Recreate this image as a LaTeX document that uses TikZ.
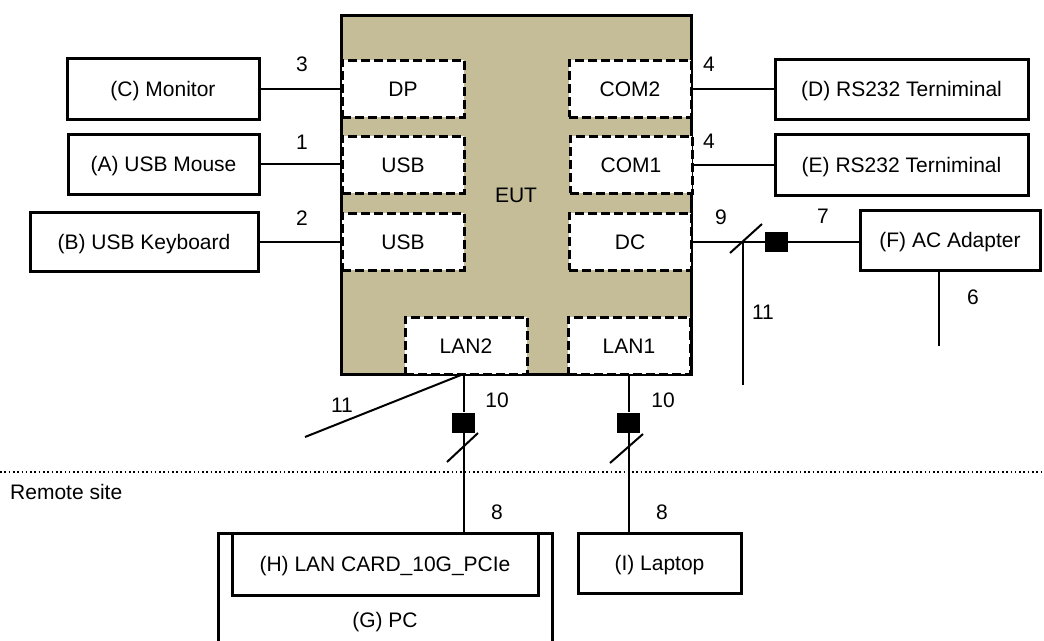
\documentclass[tikz,border=0pt]{standalone}
\usepackage{fontspec}
\setmainfont{Liberation Sans}
\definecolor{euttan}{HTML}{C4BD97}
\begin{document}
\begin{tikzpicture}[x=1pt,y=-1pt,
  every node/.style={font=\fontsize{21}{25}\selectfont, inner sep=0pt, text height=15pt, text depth=0pt},
  devbox/.style={draw, line width=3pt, fill=white, rectangle},
  portbox/.style={draw, line width=3pt, fill=white, dash pattern=on 9pt off 4pt, minimum width=122pt, minimum height=57pt},
  conn/.style={line width=2pt},
  bead/.style={fill=black, minimum width=23pt, minimum height=20pt, text height=0pt},
  num/.style={}]
\useasboundingbox (0,0) rectangle (1044,640);
% EUT
\node[draw, line width=3pt, fill=euttan, minimum width=350pt, minimum height=359pt] (eut) at (516,194.5) {EUT};
% ports
\node[portbox] (dp) at (403,88.5) {DP};
\node[portbox] (usba) at (403,164.5) {USB};
\node[portbox] (usbb) at (403,241.5) {USB};
\node[portbox] (com2) at (630,88.5) {COM2};
\node[portbox] (com1) at (631,164.5) {COM1};
\node[portbox] (dc) at (630,241.5) {DC};
\node[portbox] (lan2) at (466,345.5) {LAN2};
\node[portbox] (lan1) at (629,345.5) {LAN1};
% devices
\node[devbox, minimum width=192pt, minimum height=61pt] (mon) at (163,88.5) {(C) Monitor};
\node[devbox, minimum width=191pt, minimum height=60pt] (mouse) at (163.5,164) {(A) USB Mouse};
\node[devbox, minimum width=228pt, minimum height=59pt] (kb) at (144,241.5) {(B) USB Keyboard};
\node[devbox, minimum width=253pt, minimum height=60pt] (rsd) at (901.5,89) {(D) RS232 Terniminal};
\node[devbox, minimum width=253pt, minimum height=61pt] (rse) at (901.5,164.5) {(E) RS232 Terniminal};
\node[devbox, minimum width=180pt, minimum height=60pt] (ac) at (950,240) {(F) AC Adapter};
% PC and LAN card
\coordinate (pcbl) at (218,650);
\coordinate (pctl) at (218,533);
\coordinate (pctr) at (552,533);
\coordinate (pcbr) at (552,650);
\draw[line width=3pt] (pcbl) -- (pctl) -- (pctr) -- (pcbr);
\node (pc) at (385,620) {(G) PC};
\node[devbox, minimum width=306pt, minimum height=62pt] (lanc) at (385,564) {(H) LAN CARD\_10G\_PCIe};
\node[devbox, minimum width=163pt, minimum height=60pt] (lap) at (659.5,563) {(I) Laptop};
% left connectors
\draw[conn] (mon.east) -- (mon.east -| dp.west);
\draw[conn] (mouse.east) -- (mouse.east -| usba.west);
\draw[conn] (kb.east) -- (kb.east -| usbb.west);
\draw[conn] (com2.east) -- (com2.east -| rsd.west);
\draw[conn] (com1.east) -- (com1.east -| rse.west);
% DC line
\node[bead] (bdc) at (776.5,241.5) {};
\coordinate (jdc) at (743,241.5);
\draw[conn] (dc.east) -- (jdc) -- (bdc) -- (bdc -| ac.west);
\coordinate (sdc1) at (730,253);
\coordinate (sdc2) at (762,224);
\draw[conn] (sdc1) -- (sdc2);
\coordinate (e11r) at (743,385);
\draw[conn] (jdc) -- (e11r);
\coordinate (e6) at (939,346);
\draw[conn] (ac.south -| e6) -- (e6);
% LAN2
\node[bead] (b2) at (463.5,422.5) {};
\coordinate (j2) at (463.5,374);
\draw[conn] (j2) -- (b2) -- (b2 |- lanc.north);
\coordinate (e11l) at (305,437);
\draw[conn] (j2) -- (e11l);
\coordinate (s2a) at (447,462);
\coordinate (s2b) at (478,433);
\draw[conn] (s2a) -- (s2b);
% LAN1
\node[bead] (b1) at (628.5,422.5) {};
\coordinate (j1) at (628.5,374);
\draw[conn] (j1) -- (b1) -- (b1 |- lap.north);
\coordinate (s1a) at (610,463);
\coordinate (s1b) at (643,434);
\draw[conn] (s1a) -- (s1b);
% remote site divider
\coordinate (dl) at (0,472);
\coordinate (dr) at (1044,472);
\draw[line width=1.6pt, dash pattern=on 1.6pt off 2.7pt] (dl) -- (dr);
\node[anchor=west] (remote) at (10,492) {Remote site};
% numbers
\node[num] (n3) at (302,64) {3};
\node[num] (n1) at (302,142) {1};
\node[num] (n2) at (302,218) {2};
\node[num] (n4a) at (709,64) {4};
\node[num] (n4b) at (709,141) {4};
\node[num] (n9) at (721,217) {9};
\node[num] (n7) at (823,216) {7};
\node[num] (n11r) at (763,312) {11};
\node[num] (n6) at (973,297) {6};
\node[num] (n11l) at (342,405) {11};
\node[num] (n10a) at (497,400) {10};
\node[num] (n10b) at (663,400) {10};
\node[num] (n8a) at (497,512) {8};
\node[num] (n8b) at (662,512) {8};
\end{tikzpicture}
\end{document}
